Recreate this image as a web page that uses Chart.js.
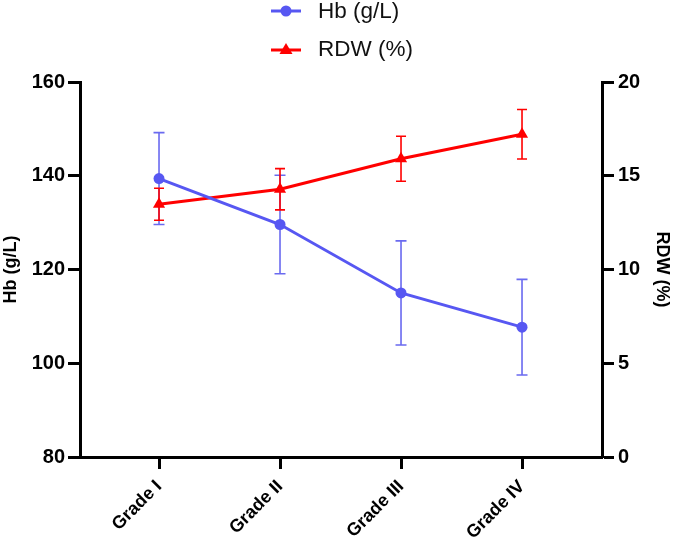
<!DOCTYPE html>
<html>
<head>
<meta charset="utf-8">
<script src="https://cdn.jsdelivr.net/npm/chart.js@4.4.1/dist/chart.umd.min.js"></script>
<style>
  html, body { margin: 0; padding: 0; background: #fff; }
  #wrap { position: relative; width: 677px; height: 546px; }
  #chart { position: absolute; left: 0; top: 0; }
  .leg { position: absolute; left: 270px; height: 26px; display: flex; align-items: center;
         font-family: 'Liberation Sans', Arial, sans-serif; font-size: 22.5px; color: #111; }
  .leg svg { margin-right: 16px; }
</style>
</head>
<body>
<div id="wrap">
  <canvas id="chart" width="677" height="546"></canvas>
  <div class="leg" style="top:-2px">
    <svg width="32" height="14"><line x1="1" y1="7" x2="31" y2="7" stroke="#5757f2" stroke-width="3"/><circle cx="16" cy="7" r="5.5" fill="#5757f2"/></svg>
    <span>Hb (g/L)</span>
  </div>
  <div class="leg" style="top:36px">
    <svg width="32" height="14"><line x1="1" y1="8" x2="31" y2="8" stroke="#ff0000" stroke-width="3"/><polygon points="16,1 22.5,12 9.5,12" fill="#ff0000"/></svg>
    <span>RDW (%)</span>
  </div>
</div>
<script>
// data (mean and SD per grade)
const grades = ['Grade I', 'Grade II', 'Grade III', 'Grade IV'];
const hbMean = [139.4, 129.6, 115.0, 107.7];
const hbSD = [9.8, 10.5, 11.1, 10.2];
const rdwMean = [13.48, 14.28, 15.91, 17.21];
const rdwSD = [0.85, 1.1, 1.2, 1.32];

const HB_COLOR = '#5757f2';
const HB_ERR = '#6a6af0';
const RDW_COLOR = '#ff0000';
const FONT = "'Liberation Sans', Arial, sans-serif";

// error bars drawn under the lines, using the chart's own scales
const errorBars = {
  id: 'errorBars',
  beforeDatasetsDraw(chart) {
    const ctx = chart.ctx;
    const x = chart.scales.x;
    const sets = [
      { mean: hbMean, sd: hbSD, axis: 'y', color: HB_ERR, cap: 5.5 },
      { mean: rdwMean, sd: rdwSD, axis: 'y1', color: RDW_COLOR, cap: 5 },
    ];
    ctx.save();
    sets.forEach(s => {
      const y = chart.scales[s.axis];
      ctx.strokeStyle = s.color;
      ctx.lineWidth = 1.6;
      s.mean.forEach((m, i) => {
        const px = x.getPixelForValue(i);
        const top = y.getPixelForValue(m + s.sd[i]);
        const bot = y.getPixelForValue(m - s.sd[i]);
        ctx.beginPath();
        ctx.moveTo(px, top); ctx.lineTo(px, bot);
        ctx.moveTo(px - s.cap, top); ctx.lineTo(px + s.cap, top);
        ctx.moveTo(px - s.cap, bot); ctx.lineTo(px + s.cap, bot);
        ctx.stroke();
      });
    });
    ctx.restore();
  },
};

const axisGrid = {
  display: true,
  drawOnChartArea: false,
  drawTicks: true,
  tickLength: 12,
  tickWidth: 3,
  tickColor: '#000',
};
const tickFont = { family: FONT, size: 20, weight: 'bold' };

new Chart(document.getElementById('chart'), {
  type: 'line',
  data: {
    datasets: [
      {
        label: 'Hb (g/L)',
        data: hbMean.map((v, i) => ({ x: i, y: v })),
        yAxisID: 'y',
        borderColor: HB_COLOR,
        backgroundColor: HB_COLOR,
        borderWidth: 3,
        pointStyle: 'circle',
        pointRadius: 5.5,
        pointBorderWidth: 0,
      },
      {
        label: 'RDW (%)',
        data: rdwMean.map((v, i) => ({ x: i, y: v })),
        yAxisID: 'y1',
        borderColor: RDW_COLOR,
        backgroundColor: RDW_COLOR,
        borderWidth: 3,
        pointStyle: 'triangle',
        pointRadius: 7,
        pointBorderWidth: 0,
      },
    ],
  },
  options: {
    responsive: false,
    animation: false,
    layout: { padding: { top: 82, left: 0, right: 0, bottom: 0 } },
    plugins: {
      legend: { display: false },
      tooltip: { enabled: false },
    },
    scales: {
      x: {
        type: 'linear',
        min: -0.653,
        max: 3.661,
        afterBuildTicks: (scale) => { scale.ticks = grades.map((g, i) => ({ value: i })); },
        afterFit: (scale) => { scale.height = 89; },
        border: { display: true, color: '#000', width: 3 },
        grid: axisGrid,
        ticks: {
          color: '#000',
          font: { family: FONT, size: 18, weight: 'bold' },
          minRotation: 45,
          maxRotation: 45,
          padding: 7,
          callback: (v) => grades[v],
        },
      },
      y: {
        position: 'left',
        min: 80,
        max: 160,
        afterFit: (scale) => { scale.width = 80; },
        border: { display: true, color: '#000', width: 3 },
        grid: axisGrid,
        ticks: { stepSize: 20, color: '#000', font: tickFont, padding: 3 },
        title: { display: true, text: 'Hb (g/L)', color: '#000', font: { family: FONT, size: 18, weight: 'bold' }, padding: 0 },
      },
      y1: {
        position: 'right',
        min: 0,
        max: 20,
        afterFit: (scale) => { scale.width = 75; },
        border: { display: true, color: '#000', width: 3 },
        grid: axisGrid,
        ticks: { stepSize: 5, color: '#000', font: tickFont, padding: 4 },
        title: { display: true, text: 'RDW (%)', color: '#000', font: { family: FONT, size: 18, weight: 'bold' }, padding: 4 },
      },
    },
  },
  plugins: [errorBars],
});
</script>
</body>
</html>
